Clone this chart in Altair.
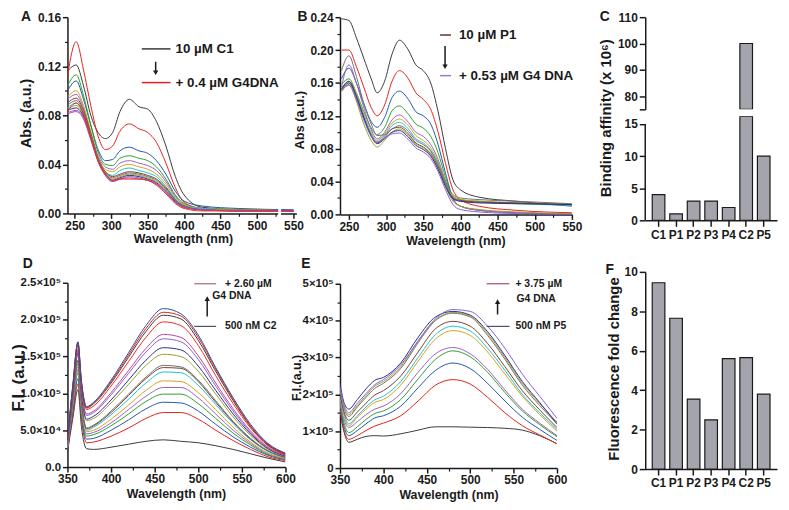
import altair as alt
import pandas as pd

FONT = "Liberation Sans"
INK = "#1a1a1a"
BAR_FILL = "#a4a4ac"

# ---------------- Panel A: absorbance, C1 titration ----------------
A_WL = [240, 252, 262, 272, 282, 292, 302, 312, 325, 338, 350, 362, 375, 388, 400, 425, 475, 550]
A01 = [0.116, 0.121, 0.104, 0.080, 0.066, 0.061, 0.066, 0.083, 0.093, 0.087, 0.085, 0.075, 0.055, 0.030, 0.015, 0.005, 0.003, 0.002]
A02 = [0.112, 0.140, 0.117, 0.088, 0.063, 0.052, 0.055, 0.067, 0.073, 0.069, 0.066, 0.058, 0.041, 0.021, 0.009, 0.004, 0.002, 0.002]
A03 = [0.100, 0.108, 0.093, 0.072, 0.052, 0.043, 0.044, 0.051, 0.054, 0.051, 0.049, 0.043, 0.032, 0.018, 0.010, 0.006, 0.004, 0.003]
A04 = [0.104, 0.113, 0.096, 0.072, 0.050, 0.040, 0.039, 0.045, 0.047, 0.045, 0.043, 0.038, 0.028, 0.015, 0.008, 0.004, 0.003, 0.002]
A05 = [0.093, 0.097, 0.086, 0.066, 0.047, 0.038, 0.036, 0.041, 0.043, 0.041, 0.039, 0.035, 0.026, 0.014, 0.007, 0.004, 0.003, 0.002]
A06 = [0.095, 0.100, 0.088, 0.067, 0.046, 0.036, 0.034, 0.038, 0.040, 0.038, 0.036, 0.032, 0.024, 0.013, 0.007, 0.004, 0.003, 0.002]
A07 = [0.086, 0.090, 0.081, 0.063, 0.044, 0.034, 0.031, 0.035, 0.037, 0.035, 0.033, 0.030, 0.022, 0.012, 0.006, 0.004, 0.003, 0.002]
A08 = [0.090, 0.094, 0.084, 0.065, 0.045, 0.034, 0.030, 0.032, 0.034, 0.033, 0.031, 0.028, 0.021, 0.011, 0.006, 0.003, 0.003, 0.002]
A09 = [0.088, 0.092, 0.082, 0.064, 0.045, 0.033, 0.029, 0.031, 0.033, 0.032, 0.030, 0.027, 0.020, 0.011, 0.006, 0.003, 0.003, 0.002]
A10 = [0.085, 0.088, 0.080, 0.063, 0.044, 0.033, 0.028, 0.030, 0.032, 0.031, 0.029, 0.026, 0.019, 0.010, 0.005, 0.003, 0.003, 0.002]
A11 = [0.084, 0.086, 0.079, 0.062, 0.043, 0.032, 0.027, 0.029, 0.031, 0.030, 0.028, 0.025, 0.018, 0.010, 0.005, 0.003, 0.002, 0.002]
A12 = [0.082, 0.084, 0.078, 0.061, 0.043, 0.031, 0.026, 0.028, 0.030, 0.029, 0.027, 0.024, 0.018, 0.009, 0.005, 0.003, 0.002, 0.002]
A13 = [0.081, 0.083, 0.077, 0.060, 0.042, 0.031, 0.026, 0.028, 0.029, 0.028, 0.027, 0.024, 0.017, 0.009, 0.005, 0.003, 0.002, 0.002]
A14 = [0.083, 0.090, 0.081, 0.062, 0.043, 0.032, 0.027, 0.028, 0.028, 0.028, 0.027, 0.023, 0.016, 0.008, 0.004, 0.002, 0.002, 0.002]
A_COLORS = ["#3a3a3a", "#e3211c", "#2356a6", "#2ca02c", "#9c5fc4", "#d3a21a", "#1fbfd0",
            "#7b3f2f", "#707070", "#9aa02a", "#2b2f8a", "#8a5fd0", "#c0449a", "#f0281e"]
A_BREAK = [529, 533]

# ---------------- Panel B: absorbance, P1 titration ----------------
B_WL = [240, 250, 260, 270, 280, 288, 298, 308, 318, 330, 340, 350, 360, 370, 380, 390, 400, 425, 475, 550]
B01 = [0.238, 0.236, 0.215, 0.190, 0.165, 0.148, 0.162, 0.195, 0.212, 0.200, 0.182, 0.175, 0.160, 0.125, 0.080, 0.042, 0.030, 0.021, 0.016, 0.010]
B02 = [0.200, 0.200, 0.180, 0.155, 0.130, 0.120, 0.133, 0.162, 0.175, 0.165, 0.148, 0.140, 0.128, 0.100, 0.062, 0.030, 0.018, 0.010, 0.005, 0.002]
B03 = [0.165, 0.178, 0.160, 0.135, 0.113, 0.106, 0.118, 0.142, 0.150, 0.140, 0.125, 0.120, 0.110, 0.085, 0.050, 0.020, 0.010, 0.005, 0.002, 0.000]
B04 = [0.158, 0.165, 0.148, 0.125, 0.105, 0.097, 0.106, 0.126, 0.132, 0.122, 0.110, 0.105, 0.095, 0.075, 0.045, 0.022, 0.018, 0.016, 0.014, 0.012]
B05 = [0.155, 0.182, 0.160, 0.130, 0.103, 0.092, 0.100, 0.115, 0.121, 0.112, 0.100, 0.095, 0.085, 0.067, 0.040, 0.018, 0.010, 0.005, 0.002, 0.000]
B06 = [0.152, 0.162, 0.147, 0.122, 0.100, 0.090, 0.098, 0.111, 0.116, 0.108, 0.096, 0.090, 0.081, 0.064, 0.040, 0.022, 0.018, 0.016, 0.014, 0.012]
B07 = [0.150, 0.160, 0.145, 0.120, 0.098, 0.088, 0.096, 0.108, 0.112, 0.104, 0.092, 0.087, 0.078, 0.062, 0.038, 0.020, 0.016, 0.015, 0.013, 0.011]
B08 = [0.152, 0.160, 0.142, 0.117, 0.096, 0.087, 0.094, 0.104, 0.106, 0.098, 0.087, 0.082, 0.074, 0.058, 0.036, 0.020, 0.017, 0.015, 0.014, 0.012]
B09 = [0.175, 0.193, 0.168, 0.135, 0.110, 0.096, 0.097, 0.104, 0.108, 0.101, 0.090, 0.085, 0.077, 0.060, 0.040, 0.024, 0.020, 0.018, 0.016, 0.013]
B10 = [0.150, 0.157, 0.138, 0.110, 0.090, 0.082, 0.090, 0.100, 0.104, 0.096, 0.086, 0.081, 0.072, 0.056, 0.034, 0.016, 0.010, 0.006, 0.003, 0.001]
B11 = [0.153, 0.162, 0.144, 0.118, 0.095, 0.086, 0.092, 0.100, 0.102, 0.094, 0.084, 0.079, 0.071, 0.055, 0.034, 0.019, 0.016, 0.014, 0.013, 0.012]
B12 = [0.150, 0.158, 0.140, 0.115, 0.095, 0.088, 0.093, 0.098, 0.099, 0.091, 0.081, 0.076, 0.068, 0.052, 0.030, 0.012, 0.006, 0.003, 0.001, 0.000]
B_COLORS = ["#6a2f2f", "#e3211c", "#2356a6", "#2ca02c", "#9c5fc4", "#d3a21a",
            "#e08a10", "#8a9a2a", "#1fc6cf", "#4f5a6a", "#2a9a9a", "#a07ad0"]

# ---------------- Panel C / F: bar charts ----------------
CATS = ["C1", "P1", "P2", "P3", "P4", "C2", "P5"]
C_VALS = [4, 1, 3, 3, 2, 100, 10]
F_VALS = [9.45, 7.65, 3.55, 2.5, 5.6, 5.65, 3.8]
C_LOW_AXIS = [0, 15]

# ---------------- Panel D: fluorescence, C2 (units of 1e5) ----------------
D_WL = [350, 356, 362, 366, 372, 380, 400, 420, 440, 460, 480, 500, 520, 540, 560, 580, 600]
D01 = [0.20, 0.65, 1.05, 0.55, 0.25, 0.24, 0.27, 0.31, 0.35, 0.37, 0.35, 0.33, 0.29, 0.24, 0.18, 0.12, 0.07]
D02 = [0.22, 0.70, 1.13, 0.65, 0.33, 0.34, 0.42, 0.53, 0.66, 0.74, 0.74, 0.65, 0.50, 0.36, 0.24, 0.14, 0.09]
D03 = [0.24, 0.75, 1.20, 0.70, 0.38, 0.39, 0.50, 0.64, 0.79, 0.88, 0.87, 0.76, 0.58, 0.41, 0.27, 0.16, 0.10]
D04 = [0.25, 0.80, 1.28, 0.75, 0.42, 0.44, 0.56, 0.72, 0.89, 0.99, 0.99, 0.86, 0.66, 0.46, 0.30, 0.17, 0.11]
D05 = [0.26, 0.82, 1.32, 0.78, 0.45, 0.47, 0.60, 0.78, 0.96, 1.08, 1.08, 0.94, 0.72, 0.50, 0.32, 0.18, 0.11]
D06 = [0.27, 0.85, 1.36, 0.82, 0.48, 0.50, 0.65, 0.84, 1.04, 1.17, 1.16, 1.01, 0.78, 0.54, 0.34, 0.19, 0.12]
D07 = [0.28, 0.88, 1.40, 0.86, 0.50, 0.54, 0.71, 0.92, 1.14, 1.29, 1.28, 1.11, 0.85, 0.59, 0.37, 0.21, 0.13]
D08 = [0.29, 0.90, 1.44, 0.88, 0.52, 0.56, 0.74, 0.97, 1.20, 1.35, 1.34, 1.16, 0.88, 0.61, 0.38, 0.22, 0.13]
D09 = [0.29, 0.90, 1.45, 0.90, 0.53, 0.57, 0.76, 0.99, 1.22, 1.38, 1.36, 1.18, 0.90, 0.62, 0.39, 0.22, 0.14]
D10 = [0.31, 0.95, 1.52, 0.98, 0.63, 0.66, 0.87, 1.12, 1.38, 1.53, 1.50, 1.30, 0.99, 0.68, 0.43, 0.24, 0.15]
D11 = [0.32, 0.97, 1.55, 1.00, 0.65, 0.69, 0.91, 1.18, 1.45, 1.62, 1.59, 1.37, 1.04, 0.72, 0.45, 0.25, 0.15]
D12 = [0.33, 1.00, 1.58, 1.05, 0.70, 0.74, 0.98, 1.27, 1.56, 1.74, 1.70, 1.46, 1.10, 0.76, 0.47, 0.26, 0.16]
D13 = [0.34, 1.02, 1.60, 1.07, 0.72, 0.76, 1.01, 1.31, 1.61, 1.80, 1.76, 1.51, 1.14, 0.79, 0.49, 0.27, 0.16]
D14 = [0.36, 1.05, 1.65, 1.12, 0.78, 0.83, 1.10, 1.43, 1.76, 1.97, 1.92, 1.65, 1.24, 0.86, 0.53, 0.29, 0.17]
D15 = [0.37, 1.07, 1.68, 1.15, 0.80, 0.86, 1.14, 1.49, 1.84, 2.06, 2.01, 1.72, 1.30, 0.90, 0.55, 0.30, 0.18]
D16 = [0.38, 1.08, 1.69, 1.16, 0.81, 0.87, 1.16, 1.52, 1.88, 2.10, 2.05, 1.76, 1.33, 0.92, 0.56, 0.31, 0.18]
D17 = [0.38, 1.10, 1.70, 1.17, 0.82, 0.88, 1.18, 1.55, 1.92, 2.15, 2.08, 1.79, 1.35, 0.94, 0.58, 0.32, 0.19]
D_COLORS = ["#5a5a7a", "#e8231f", "#1f5fbf", "#3aa33a", "#a45ed0", "#d8a010", "#1fc2c8", "#5f8f2f", "#6a3a2a",
            "#c08ab8", "#50b050", "#f03030", "#2060d0", "#9a6ad0", "#20a0a0", "#30c8d8", "#5a3030"]

# ---------------- Panel E: fluorescence, P5 (units of 1e5) ----------------
E_WL = [350, 355, 360, 370, 380, 390, 400, 420, 440, 460, 480, 500, 520, 540, 560, 580, 600]
E01 = [1.55, 0.95, 0.70, 0.78, 0.86, 0.88, 0.87, 0.93, 1.03, 1.12, 1.12, 1.11, 1.10, 1.08, 1.03, 0.88, 0.66]
E02 = [1.60, 1.00, 0.78, 0.88, 1.02, 1.14, 1.22, 1.42, 1.82, 2.25, 2.40, 2.28, 1.92, 1.50, 1.15, 0.90, 0.66]
E03 = [1.70, 1.10, 0.88, 1.02, 1.20, 1.36, 1.42, 1.68, 2.18, 2.65, 2.85, 2.70, 2.30, 1.82, 1.38, 1.05, 0.75]
E04 = [1.75, 1.20, 0.96, 1.12, 1.32, 1.48, 1.55, 1.86, 2.42, 2.95, 3.18, 3.02, 2.60, 2.05, 1.55, 1.18, 0.85]
E05 = [1.80, 1.30, 1.10, 1.26, 1.45, 1.60, 1.68, 2.02, 2.60, 3.10, 3.27, 3.10, 2.68, 2.12, 1.60, 1.22, 0.88]
E06 = [1.90, 1.40, 1.15, 1.38, 1.60, 1.78, 1.86, 2.25, 2.90, 3.50, 3.73, 3.60, 3.15, 2.55, 1.95, 1.45, 1.00]
E07 = [1.95, 1.45, 1.20, 1.42, 1.66, 1.85, 1.95, 2.35, 3.00, 3.62, 3.85, 3.72, 3.25, 2.65, 2.00, 1.50, 1.05]
E08 = [2.00, 1.50, 1.30, 1.52, 1.76, 1.98, 2.10, 2.50, 3.15, 3.78, 3.98, 3.85, 3.38, 2.75, 2.10, 1.58, 1.10]
E09 = [2.10, 1.60, 1.40, 1.66, 1.92, 2.16, 2.30, 2.70, 3.40, 4.00, 4.20, 4.10, 3.60, 2.95, 2.25, 1.70, 1.20]
E10 = [2.15, 1.62, 1.45, 1.70, 1.97, 2.22, 2.35, 2.75, 3.45, 4.02, 4.22, 4.12, 3.65, 3.00, 2.30, 1.75, 1.25]
E11 = [2.30, 1.75, 1.60, 1.86, 2.15, 2.38, 2.46, 2.85, 3.55, 4.10, 4.25, 4.15, 3.70, 3.05, 2.35, 1.78, 1.20]
E12 = [2.20, 1.70, 1.50, 1.76, 2.02, 2.26, 2.40, 2.80, 3.45, 4.05, 4.30, 4.25, 3.85, 3.25, 2.55, 1.95, 1.35]
E_COLORS = ["#5a5a78", "#e8231f", "#9a62c8", "#d4a012", "#22b8c8", "#6b3535",
            "#505050", "#8a9020", "#2a60c0", "#20a8b0", "#4caf50", "#90902a"]

ONE = pd.DataFrame({"k": [0]})


def mk_axis(values=None, label_expr=None, minor=False, orient=None, tick_size=5,
            label_padding=2, label_size=12, domain=True):
    kw = dict(title=None, grid=False, labelFont=FONT, labelFontSize=label_size,
              labelFontWeight="bold", labelColor=INK, domainColor=INK, domainWidth=1.5,
              tickColor=INK, tickWidth=1.5, tickSize=tick_size, labelPadding=label_padding,
              labelFlush=False, labelOverlap=False, labelAngle=0, domain=domain)
    if values is not None:
        kw["values"] = values
    if label_expr:
        kw["labelExpr"] = label_expr
    if minor:
        kw.update(labels=False, domain=False, tickSize=3, tickWidth=1.2)
    if orient:
        kw["orient"] = orient
    return alt.Axis(**kw)


def box(left, top, right, bottom):
    """Invisible rectangle that fixes the layout bounds of a panel (in pixels)."""
    return alt.Chart(ONE).mark_rect(opacity=0).encode(
        x=alt.value(left), x2=alt.value(right), y=alt.value(top), y2=alt.value(bottom))


def txt(t, x, y, size, angle=0, align="left", baseline="middle"):
    return alt.Chart(ONE).mark_text(text=t, font=FONT, fontSize=size, fontWeight="bold",
                                    align=align, baseline=baseline, angle=angle,
                                    color=INK).encode(x=alt.value(x), y=alt.value(y))


def hline(x1, x2, y, color, width=1.5):
    return alt.Chart(ONE).mark_rule(color=color, strokeWidth=width).encode(
        x=alt.value(x1), x2=alt.value(x2), y=alt.value(y))


def arrow(x, y_top, y_bot, down=True):
    if down:
        line = alt.Chart(ONE).mark_rule(color=INK, strokeWidth=1.5).encode(
            x=alt.value(x), y=alt.value(y_top), y2=alt.value(y_bot - 3))
        head = alt.Chart(ONE).mark_point(shape="triangle-down", filled=True, size=28,
                                         color=INK, opacity=1).encode(
            x=alt.value(x), y=alt.value(y_bot - 2))
    else:
        line = alt.Chart(ONE).mark_rule(color=INK, strokeWidth=1.5).encode(
            x=alt.value(x), y=alt.value(y_top + 3), y2=alt.value(y_bot))
        head = alt.Chart(ONE).mark_point(shape="triangle-up", filled=True, size=28,
                                         color=INK, opacity=1).encode(
            x=alt.value(x), y=alt.value(y_top + 2))
    return [line, head]


def spectra(wl, curves, colors, xdom, ydom, w, h, xv, xm, yv, ym, ylabels, extras,
            ylab_size=12, xbreak=None):
    ids = [f"s{i:02d}" for i in range(len(curves))]
    rows = [{"wl": x, "v": y, "s": ids[i]} for i, c in enumerate(curves) for x, y in zip(wl, c)]
    df = pd.DataFrame(rows)
    xs = alt.Scale(domain=xdom, nice=False, zero=False)
    ys = alt.Scale(domain=ydom, nice=False, zero=False)
    lines = alt.Chart(df).mark_line(strokeWidth=1, interpolate="monotone", clip=True).encode(
        x=alt.X("wl:Q", scale=xs, axis=mk_axis(xv)),
        y=alt.Y("v:Q", scale=ys, axis=mk_axis(yv, ylabels, label_size=ylab_size)),
        color=alt.Color("s:N", scale=alt.Scale(domain=ids, range=colors), legend=None),
        detail="s:N",
    )
    minor = alt.Chart(df).mark_point(opacity=0, size=1).encode(
        x=alt.X("wl:Q", scale=xs, axis=mk_axis(xm, minor=True, orient="bottom")),
        y=alt.Y("v:Q", scale=ys, axis=mk_axis(ym, minor=True, orient="left")),
    )
    layers = [lines, minor]
    if xbreak:
        bdf = pd.DataFrame({"x0": [xbreak[0]], "x1": [xbreak[1]]})
        gap = alt.Chart(bdf).mark_rect(color="white").encode(
            x=alt.X("x0:Q", scale=xs, axis=None), x2="x1:Q",
            y=alt.value(0), y2=alt.value(h + 2))
        layers.append(gap)
    return alt.layer(*layers, *extras).resolve_axis(
        x="independent", y="independent").properties(width=w, height=h)


# ---------------- Panel A ----------------
panel_a = spectra(
    A_WL, [A01, A02, A03, A04, A05, A06, A07, A08, A09, A10, A11, A12, A13, A14], A_COLORS,
    [240, 554], [0, 0.16], 231, 198,
    [250, 300, 350, 400, 450, 500, 550], [275, 325, 375, 425, 475, 525],
    [0, 0.04, 0.08, 0.12, 0.16], [0.02, 0.06, 0.10, 0.14],
    "format(datum.value, '.2f')",
    [txt("A", -47, -7, 14, baseline="top"),
     txt("Abs. (a.u.)", -41, 97, 14.5, angle=270, align="center"),
     txt("Wavelength (nm)", 117, 224, 12.5, align="center"),
     hline(75, 104, 32, "#3a3a3a"), txt("10 µM C1", 109, 32, 13.5),
     *arrow(89, 45, 58, down=True),
     hline(75, 104, 66, "#e3211c"), txt("+ 0.4 µM G4DNA", 109, 66, 13.5),
     box(-60, -7, 240, 231)],
    xbreak=A_BREAK,
)

# ---------------- Panel B ----------------
panel_b = spectra(
    B_WL, [B01, B02, B03, B04, B05, B06, B07, B08, B09, B10, B11, B12], B_COLORS,
    [238, 550], [0, 0.24], 234, 199,
    [250, 300, 350, 400, 450, 500, 550], [275, 325, 375, 425, 475, 525],
    [0, 0.04, 0.08, 0.12, 0.16, 0.20, 0.24], [0.02, 0.06, 0.10, 0.14, 0.18, 0.22],
    "format(datum.value, '.2f')",
    [txt("B", -43, -7, 14, baseline="top"),
     txt("Abs (a.u.)", -40, 104, 13, angle=270, align="center"),
     txt("Wavelength (nm)", 117, 226, 12.5, align="center"),
     hline(101, 112, 18, "#6a2f2f"), txt("10 µM P1", 120, 18, 13.5),
     *arrow(106, 29, 52, down=True),
     hline(101, 112, 59, "#a07ad0"), txt("+ 0.53 µM G4 DNA", 120, 59, 13.5),
     box(-51, -7, 247, 233)],
)

# ---------------- Panel D ----------------
panel_d = spectra(
    D_WL, [D01, D02, D03, D04, D05, D06, D07, D08, D09, D10, D11, D12, D13, D14, D15, D16, D17],
    D_COLORS, [350, 600], [0, 2.5], 220, 186,
    [350, 400, 450, 500, 550, 600], [375, 425, 475, 525, 575],
    [0, 0.5, 1.0, 1.5, 2.0, 2.5], [0.25, 0.75, 1.25, 1.75, 2.25],
    "datum.value == 0 ? '0.0' : datum.value == 0.5 ? '5.0×10⁴' : format(datum.value, '.1f') + '×10⁵'",
    [txt("D", -45, -26, 14, baseline="top"),
     txt("F.I. (a.u.)", -49, 96, 17, angle=270, align="center"),
     txt("Wavelength (nm)", 110, 213, 12.5, align="center"),
     hline(128, 150, 1, "#a06878", 1.2), txt("+ 2.60 µM", 159, 1, 10.5),
     txt("G4 DNA", 146, 13, 10.5),
     *arrow(141, 14, 34, down=False),
     hline(128, 150, 44, "#505070", 1.2), txt("500 nM C2", 159, 44, 10.5),
     box(-59, -37, 240, 221)],
    ylab_size=11.5,
)

# ---------------- Panel E ----------------
panel_e = spectra(
    E_WL, [E01, E02, E03, E04, E05, E06, E07, E08, E09, E10, E11, E12], E_COLORS,
    [350, 600], [0, 5], 219, 186,
    [350, 400, 450, 500, 550, 600], [375, 425, 475, 525, 575],
    [0, 1, 2, 3, 4, 5], [0.5, 1.5, 2.5, 3.5, 4.5],
    "datum.value == 0 ? '0' : format(datum.value, 'd') + '×10⁵'",
    [txt("E", -39, -27, 14, baseline="top"),
     txt("F.I.(a.u.)", -43, 95, 12.5, angle=270, align="center"),
     txt("Wavelength (nm)", 110, 213, 12.5, align="center"),
     hline(148, 171, 0, "#b04a6a", 1.2), txt("+ 3.75 µM", 177, 0, 10.5),
     txt("G4 DNA", 178, 15, 10.5),
     *arrow(159, 16, 31, down=False),
     hline(148, 171, 43, "#505070", 1.2), txt("500 nM P5", 177, 43, 10.5),
     box(-51, -36, 247, 220)],
    ylab_size=11.5,
)

# ---------------- Panel C (broken axis) ----------------
c_df = pd.DataFrame({"cat": CATS, "val": C_VALS})
band = alt.Scale(domain=CATS, paddingInner=0.28, paddingOuter=0.4)

c_up_bars = alt.Chart(c_df).transform_filter("datum.val >= 75").mark_bar(
    clip=True, fill=BAR_FILL, stroke=INK, strokeWidth=1.2).encode(
    x=alt.X("cat:N", scale=band, axis=None, sort=CATS),
    y=alt.Y("val:Q", scale=alt.Scale(domain=[75, 110], nice=False, zero=False),
            axis=mk_axis([75, 80, 90, 100, 110], "datum.value == 75 ? '' : datum.label", tick_size=6)),
    y2=alt.datum(75),
)
c_up = alt.layer(
    c_up_bars,
    txt("C", -46, -7, 14, baseline="top"),
    box(-77, -7, 137, 93),
).properties(width=133, height=93)

c_low_scale = alt.Scale(domain=[0, 16.2], nice=False, zero=False, clamp=True)
c_low_axis_spec = mk_axis([0, 5, 10, 15], tick_size=6, domain=False)
c_low_bars = alt.Chart(c_df).mark_bar(clip=True, fill=BAR_FILL, stroke=INK, strokeWidth=1.2).encode(
    x=alt.X("cat:N", scale=band, sort=CATS, axis=mk_axis(tick_size=6, label_padding=3)),
    y=alt.Y("val:Q", scale=c_low_scale, axis=c_low_axis_spec),
    y2=alt.datum(0),
)
c_axis_df = pd.DataFrame({"y0": [C_LOW_AXIS[0]], "y1": [C_LOW_AXIS[1]]})
c_low_axis = alt.Chart(c_axis_df).mark_rule(color=INK, strokeWidth=1.5).encode(
    x=alt.value(0), y=alt.Y("y0:Q", scale=c_low_scale, axis=c_low_axis_spec), y2="y1:Q")
c_low = alt.layer(
    c_low_bars, c_low_axis,
    txt("Binding affinity (x 10⁶)", -40, 2, 15, angle=270, align="center"),
    box(-77, -100, 137, 136),
).properties(width=133, height=105)

panel_c = alt.vconcat(c_up, c_low, spacing=-99)

# ---------------- Panel F ----------------
f_df = pd.DataFrame({"cat": CATS, "val": F_VALS})
f_bars = alt.Chart(f_df).mark_bar(fill=BAR_FILL, stroke=INK, strokeWidth=1.2).encode(
    x=alt.X("cat:N", scale=band, sort=CATS, axis=mk_axis(tick_size=6, label_padding=3)),
    y=alt.Y("val:Q", scale=alt.Scale(domain=[0, 10], nice=False),
            axis=mk_axis([0, 2, 4, 6, 8, 10], tick_size=6)),
)
panel_f = alt.layer(
    f_bars,
    txt("F", -40, -9, 14, baseline="top"),
    txt("Fluorescence fold change", -31, 98, 15, angle=270, align="center"),
    box(-77, -21, 137, 236),
).properties(width=133, height=199)

col1 = alt.vconcat(panel_a, panel_d, spacing=0)
col2 = alt.vconcat(panel_b, panel_e, spacing=0)
col3 = alt.vconcat(panel_c, panel_f, spacing=0)

chart = alt.hconcat(col1, col2, col3, spacing=-16).properties(
    padding=0,
    background="white",
).configure_view(stroke=None)

chart.save("out.html", embed_options={"renderer": "svg", "actions": False})
